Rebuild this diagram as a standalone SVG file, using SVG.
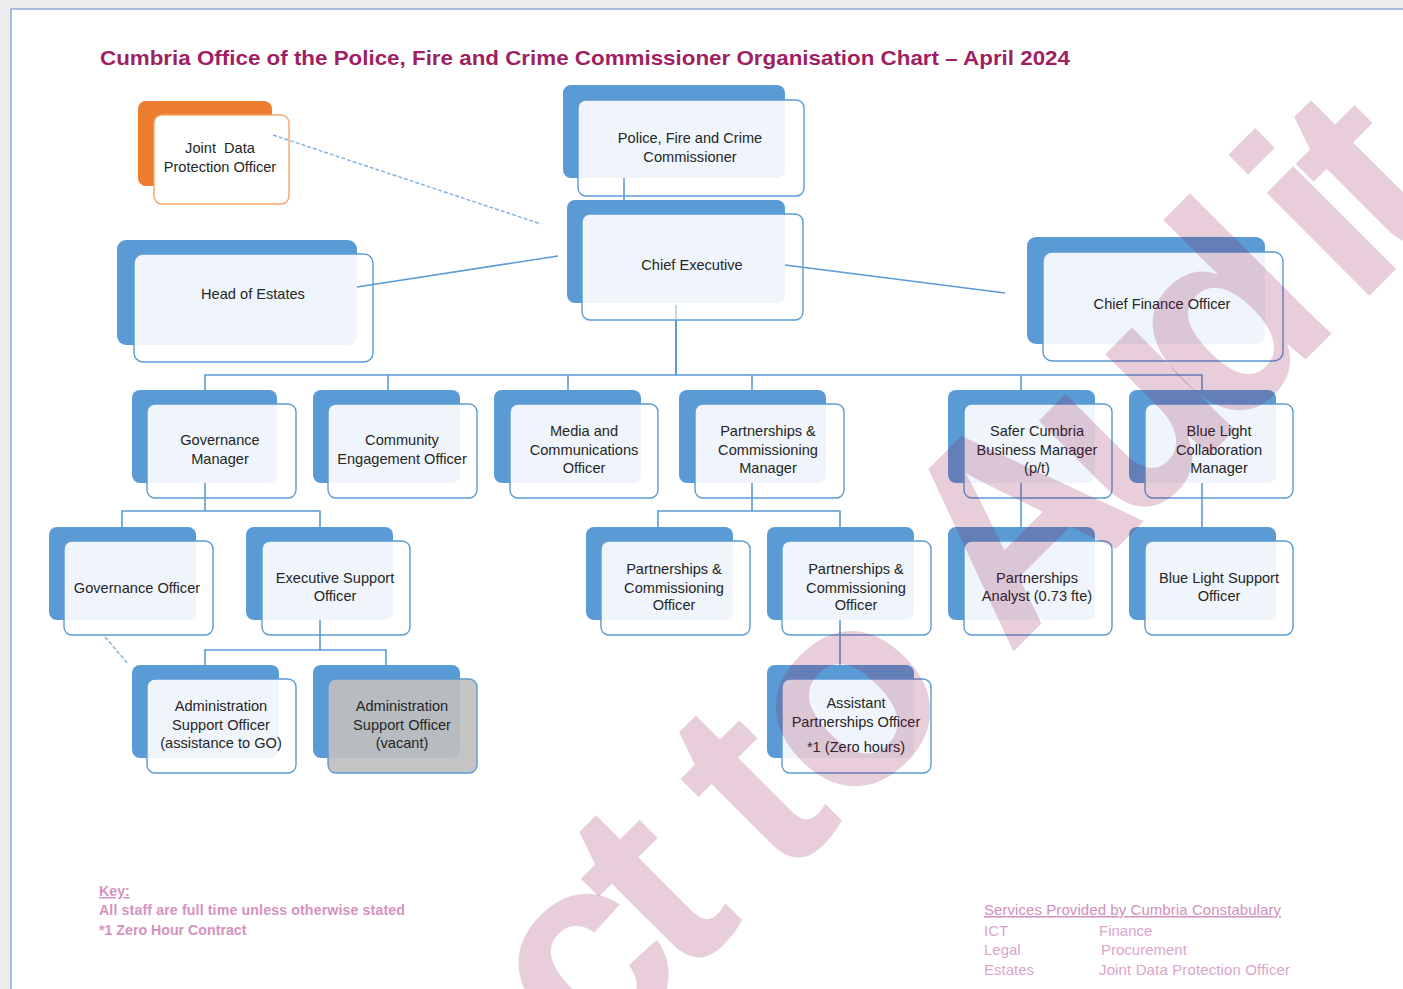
<svg xmlns="http://www.w3.org/2000/svg" width="1403" height="989" viewBox="0 0 1403 989">
<style>
.back{fill:#5b9bd5}
.front{fill:#ffffff;fill-opacity:0.9;stroke:#5b9bd5;stroke-width:1.4}
.vac{fill:#bfbfbf;fill-opacity:0.92;stroke:#5b9bd5;stroke-width:1.4}
.t{font-family:"Liberation Sans",Arial,sans-serif;font-size:14.6px;fill:#262626;text-anchor:middle}
.c{fill:none;stroke:#5b9bd5;stroke-width:1.6}
.dash{fill:none;stroke:#7fb0e0;stroke-width:1.4;stroke-dasharray:4 2}
.key{font-family:"Liberation Sans",Arial,sans-serif;font-size:14.2px;font-weight:bold;fill:#d592bf}
.svc{font-family:"Liberation Sans",Arial,sans-serif;font-size:15px;fill:#dba5cb}
</style>
<rect x="0" y="0" width="1403" height="989" fill="#ececec"/>
<rect x="11" y="9" width="1400" height="990" fill="#ffffff" stroke="#8eaadb" stroke-width="1.5"/>
<text x="100" y="65" textLength="970" lengthAdjust="spacingAndGlyphs" style="font-family:'Liberation Sans',Arial,sans-serif;font-size:21px;font-weight:bold;fill:#9e1f63">Cumbria Office of the Police, Fire and Crime Commissioner Organisation Chart – April 2024</text>

<g id="jdpo">
<rect x="138" y="101" width="134" height="85" rx="8" fill="#ed7d31"/>
<rect x="154" y="115" width="135" height="89" rx="8" fill="#ffffff" stroke="#f4a56a" stroke-width="1.4"/>
<text class="t" x="220" y="153" xml:space="preserve">Joint  Data</text>
<text class="t" x="220" y="172">Protection Officer</text>
</g>

<g id="pfcc">
<rect class="back" x="563" y="85" width="222" height="93" rx="8"/>
<rect class="front" x="578" y="100" width="226" height="96" rx="8"/>
<text class="t" x="690" y="143">Police, Fire and Crime</text>
<text class="t" x="690" y="162">Commissioner</text>
</g>

<g id="ce">
<rect class="back" x="567" y="200" width="218" height="103" rx="8"/>
<rect class="front" x="582" y="214" width="221" height="106" rx="8"/>
<text class="t" x="692" y="270">Chief Executive</text>
</g>

<g id="estates">
<rect class="back" x="117" y="240" width="240" height="105" rx="9"/>
<rect class="front" x="134" y="254" width="239" height="108" rx="9"/>
<text class="t" x="253" y="299">Head of Estates</text>
</g>

<g id="cfo">
<rect class="back" x="1027" y="237" width="238" height="107" rx="9"/>
<rect class="front" x="1043" y="252" width="240" height="109" rx="9"/>
<text class="t" x="1162" y="309">Chief Finance Officer</text>
</g>

<g id="gov-manager">
<rect class="back" x="132" y="390" width="145" height="93" rx="8"/>
<rect class="front" x="147" y="404" width="149" height="94" rx="8"/>
<text class="t" x="220" y="445">Governance</text>
<text class="t" x="220" y="464">Manager</text>
</g>

<g id="community">
<rect class="back" x="313" y="390" width="147" height="93" rx="8"/>
<rect class="front" x="328" y="404" width="149" height="94" rx="8"/>
<text class="t" x="402" y="445">Community</text>
<text class="t" x="402" y="464">Engagement Officer</text>
</g>

<g id="media">
<rect class="back" x="494" y="390" width="147" height="93" rx="8"/>
<rect class="front" x="510" y="404" width="148" height="94" rx="8"/>
<text class="t" x="584" y="436">Media and</text>
<text class="t" x="584" y="455">Communications</text>
<text class="t" x="584" y="473">Officer</text>
</g>

<g id="pc-manager">
<rect class="back" x="679" y="390" width="147" height="93" rx="8"/>
<rect class="front" x="695" y="404" width="149" height="94" rx="8"/>
<text class="t" x="768" y="436">Partnerships &amp;</text>
<text class="t" x="768" y="455">Commissioning</text>
<text class="t" x="768" y="473">Manager</text>
</g>

<g id="safer-cumbria">
<rect class="back" x="948" y="390" width="147" height="93" rx="8"/>
<rect class="front" x="964" y="404" width="148" height="94" rx="8"/>
<text class="t" x="1037" y="436">Safer Cumbria</text>
<text class="t" x="1037" y="455">Business Manager</text>
<text class="t" x="1037" y="473">(p/t)</text>
</g>

<g id="blue-light-manager">
<rect class="back" x="1129" y="390" width="147" height="93" rx="8"/>
<rect class="front" x="1145" y="404" width="148" height="94" rx="8"/>
<text class="t" x="1219" y="436">Blue Light</text>
<text class="t" x="1219" y="455">Collaboration</text>
<text class="t" x="1219" y="473">Manager</text>
</g>

<g id="gov-officer">
<rect class="back" x="49" y="527" width="147" height="93" rx="8"/>
<rect class="front" x="64" y="541" width="149" height="94" rx="8"/>
<text class="t" x="137" y="593">Governance Officer</text>
</g>

<g id="exec-support">
<rect class="back" x="246" y="527" width="147" height="93" rx="8"/>
<rect class="front" x="262" y="541" width="148" height="94" rx="8"/>
<text class="t" x="335" y="583">Executive Support</text>
<text class="t" x="335" y="601">Officer</text>
</g>

<g id="pc-officer-1">
<rect class="back" x="586" y="527" width="147" height="93" rx="8"/>
<rect class="front" x="601" y="541" width="149" height="94" rx="8"/>
<text class="t" x="674" y="574">Partnerships &amp;</text>
<text class="t" x="674" y="593">Commissioning</text>
<text class="t" x="674" y="610">Officer</text>
</g>

<g id="pc-officer-2">
<rect class="back" x="767" y="527" width="147" height="93" rx="8"/>
<rect class="front" x="782" y="541" width="149" height="94" rx="8"/>
<text class="t" x="856" y="574">Partnerships &amp;</text>
<text class="t" x="856" y="593">Commissioning</text>
<text class="t" x="856" y="610">Officer</text>
</g>

<g id="analyst">
<rect class="back" x="948" y="527" width="147" height="93" rx="8"/>
<rect class="front" x="964" y="541" width="148" height="94" rx="8"/>
<text class="t" x="1037" y="583">Partnerships</text>
<text class="t" x="1037" y="601">Analyst (0.73 fte)</text>
</g>

<g id="blue-light-support">
<rect class="back" x="1129" y="527" width="147" height="93" rx="8"/>
<rect class="front" x="1145" y="541" width="148" height="94" rx="8"/>
<text class="t" x="1219" y="583">Blue Light Support</text>
<text class="t" x="1219" y="601">Officer</text>
</g>

<g id="admin-go">
<rect class="back" x="132" y="665" width="147" height="93" rx="8"/>
<rect class="front" x="147" y="679" width="149" height="94" rx="8"/>
<text class="t" x="221" y="711">Administration</text>
<text class="t" x="221" y="730">Support Officer</text>
<text class="t" x="221" y="748">(assistance to GO)</text>
</g>

<g id="admin-vacant">
<rect class="back" x="313" y="665" width="147" height="93" rx="8"/>
<rect class="vac" x="328" y="679" width="149" height="94" rx="8"/>
<text class="t" x="402" y="711">Administration</text>
<text class="t" x="402" y="730">Support Officer</text>
<text class="t" x="402" y="748">(vacant)</text>
</g>

<g id="assistant-po">
<rect class="back" x="767" y="665" width="147" height="93" rx="8"/>
<rect class="front" x="782" y="679" width="149" height="94" rx="8"/>
<text class="t" x="856" y="708">Assistant</text>
<text class="t" x="856" y="727">Partnerships Officer</text>
<text class="t" x="856" y="752">*1 (Zero hours)</text>
</g>

<g id="connectors">
<line class="dash" x1="273" y1="135" x2="541" y2="224"/>
<line class="c" x1="624" y1="178" x2="624" y2="200"/>
<line class="c" x1="357" y1="287" x2="558" y2="256"/>
<line class="c" x1="785" y1="265" x2="1005" y2="293"/>
<line class="c" x1="676" y1="305" x2="676" y2="320" style="stroke:#9cc2e8;stroke-width:1.2"/>
<line class="c" x1="676" y1="320" x2="676" y2="375" style="stroke-width:2"/>
<polyline class="c" points="205,390 205,375 1202,375 1202,390"/>
<line class="c" x1="388" y1="375" x2="388" y2="390"/>
<line class="c" x1="568" y1="375" x2="568" y2="390"/>
<line class="c" x1="752" y1="375" x2="752" y2="390"/>
<line class="c" x1="1021" y1="375" x2="1021" y2="390"/>
<line class="c" x1="205" y1="483" x2="205" y2="511"/>
<polyline class="c" points="122,527 122,511 320,511 320,527"/>
<line class="c" x1="752" y1="483" x2="752" y2="511"/>
<polyline class="c" points="658,527 658,511 840,511 840,527"/>
<line class="c" x1="1021" y1="483" x2="1021" y2="527"/>
<line class="c" x1="1202" y1="483" x2="1202" y2="527"/>
<line class="c" x1="320" y1="620" x2="320" y2="650"/>
<polyline class="c" points="205,665 205,650 386,650 386,665"/>
<line class="c" x1="840" y1="620" x2="840" y2="665"/>
<line class="dash" x1="105" y1="637" x2="128" y2="664"/>
</g>

<g id="key">
<text class="key" x="99" y="896" text-decoration="underline">Key:</text>
<text class="key" x="99" y="915" textLength="306">All staff are full time unless otherwise stated</text>
<text class="key" x="99" y="935">*1 Zero Hour Contract</text>
</g>

<g id="services">
<text class="svc" x="984" y="915" text-decoration="underline" textLength="297" style="fill:#d08fbc">Services Provided by Cumbria Constabulary</text>
<text class="svc" x="984" y="936">ICT</text>
<text class="svc" x="1099" y="936">Finance</text>
<text class="svc" x="984" y="955">Legal</text>
<text class="svc" x="1101" y="955">Procurement</text>
<text class="svc" x="984" y="975">Estates</text>
<text class="svc" x="1099" y="975" textLength="191">Joint Data Protection Officer</text>
</g>

<g id="watermark" transform="translate(832.5,832.5) rotate(-45)">
<text x="-345 -214 -140 -73 18 170 249 420 556 740 797" y="0" style="font-family:'Liberation Sans',Arial,sans-serif;font-size:275px;font-weight:bold;fill:#8a0a46;fill-opacity:0.2">ct to Audit</text>
</g>
</svg>
